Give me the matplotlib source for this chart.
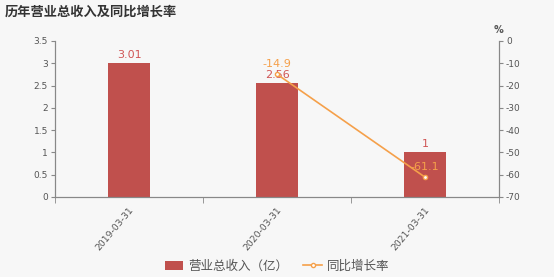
import matplotlib.pyplot as plt
import numpy as np

plt.rcParams['font.family'] = ['DejaVu Sans', 'Noto Sans CJK SC']
plt.rcParams['axes.unicode_minus'] = False

dates = ["2019-03-31", "2020-03-31", "2021-03-31"]
revenue = [3.01, 2.56, 1]
growth = [np.nan, -14.9, -61.1]
growth_labels = ["", "-14.9", "-61.1"]

bg = "#f7f7f7"
bar_color = "#c0504d"
line_color = "#f5a04a"
axis_color = "#888888"
text_color = "#555555"
cjk = ['Noto Sans CJK SC', 'DejaVu Sans']

fig = plt.figure(figsize=(5.54, 2.77), dpi=100, facecolor=bg)
ax1 = fig.add_axes([55 / 554, 1 - 197 / 277, 444 / 554, 156 / 277])
ax1.set_facecolor(bg)
ax2 = ax1.twinx()

x = np.arange(len(dates))
bars = ax1.bar(x, revenue, width=0.285, color=bar_color, label="营业总收入（亿）", zorder=2)
for xi, v in zip(x, revenue):
    ax1.text(xi, v + 0.07, f"{v:g}", ha="center", va="bottom", color="#d05555", fontsize=8)

ax1.set_xlim(-0.5, 2.5)
ax1.set_ylim(0, 3.5)
ax1.set_yticks(np.arange(0, 3.51, 0.5))
ax1.set_yticklabels(["0", "0.5", "1", "1.5", "2", "2.5", "3", "3.5"])
ax1.set_xticks(x)
ax1.set_xticklabels(dates, rotation=50, ha="right", rotation_mode="anchor")
ax1.set_xticks([-0.5, 0.5, 1.5, 2.5], minor=True)
ax1.tick_params(axis="x", which="major", length=0, labelsize=6.7, colors=text_color, pad=6)
ax1.tick_params(axis="x", which="minor", length=4, color=axis_color)
ax1.tick_params(axis="y", labelsize=6.5, colors=text_color, length=3, color=axis_color, pad=2)

line, = ax2.plot(x, growth, color=line_color, lw=1.2, marker="o", markersize=3,
                 markerfacecolor="white", markeredgecolor=line_color, label="同比增长率", zorder=3)
for xi, v, lab in zip(x, growth, growth_labels):
    if lab:
        ax2.text(xi, v + 2.5, lab, ha="center", va="bottom", color=line_color, fontsize=8)
ax2.set_ylim(-70, 0)
ax2.set_yticks(np.arange(-70, 1, 10))
ax2.tick_params(axis="y", labelsize=6.5, colors=text_color, length=3, color=axis_color, pad=2)
ax2.text(1.0, 1.04, "%", transform=ax2.transAxes, ha="center", va="bottom", fontsize=7,
         color=text_color, fontweight="bold")

for ax in (ax1, ax2):
    ax.spines["top"].set_visible(False)
    for s in ("left", "right", "bottom"):
        ax.spines[s].set_color(axis_color)

fig.text(5 / 554, 1 - 12 / 277, "历年营业总收入及同比增长率", fontsize=9.5, fontweight="bold",
         color="#333333", va="center", ha="left", family=cjk)

fig.legend(handles=[bars, line], loc="center", bbox_to_anchor=(0.5, 1 - 266 / 277), ncol=2,
           frameon=False, handlelength=1.5, handletextpad=0.4, columnspacing=1.2,
           labelcolor=text_color, prop={'family': cjk, 'size': 9})

fig.savefig("out.png", dpi=100, facecolor=bg)
